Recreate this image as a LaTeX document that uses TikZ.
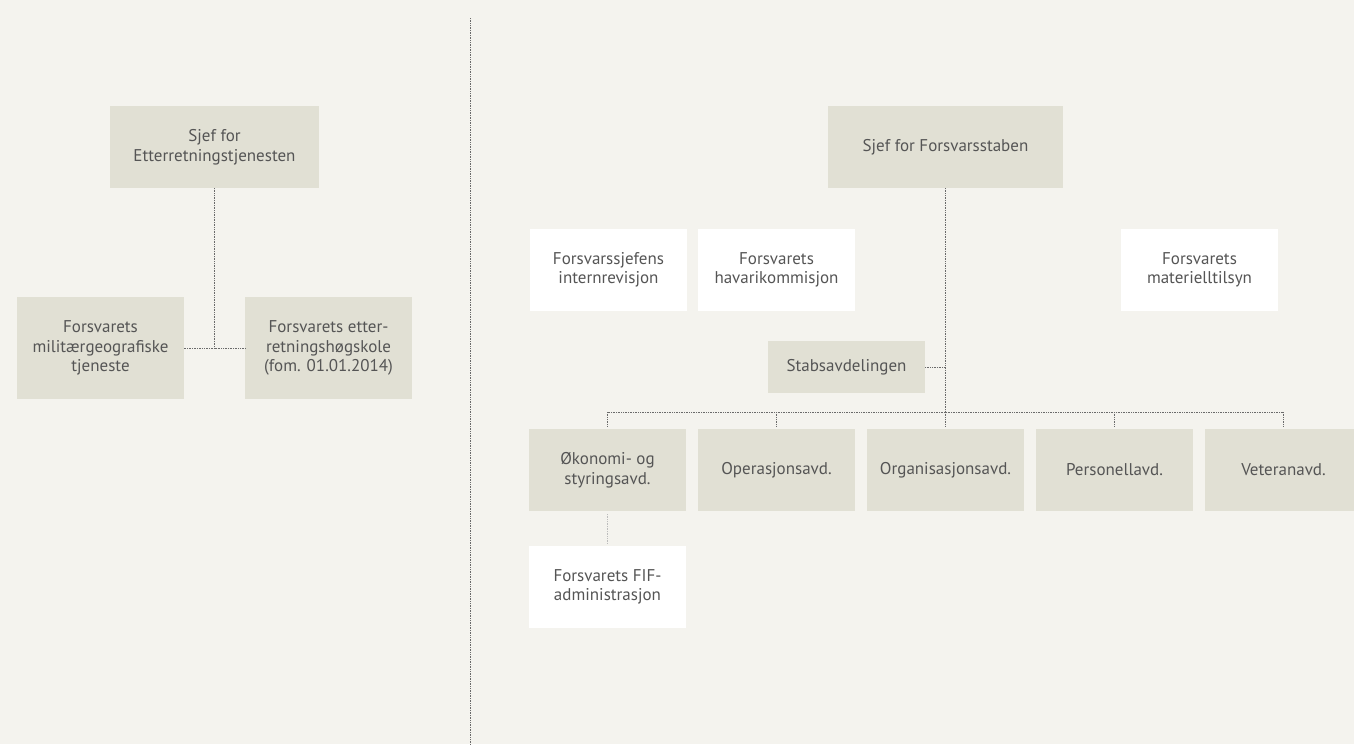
\documentclass[tikz,border=0pt]{standalone}
\usepackage{fontspec}
\setmainfont{PT Sans}
\usetikzlibrary{positioning}
\definecolor{bgbeige}{HTML}{F4F3EE}
\definecolor{boxbeige}{HTML}{E1E0D4}
\definecolor{txtgray}{HTML}{555555}
\definecolor{linegray}{HTML}{6A6A6A}

\begin{document}
\begin{tikzpicture}[
  x=1pt, y=-1pt,
  font=\fontsize{17}{19.5}\selectfont, text=txtgray,
  unit/.style={fill=boxbeige, align=center, minimum width=157pt, minimum height=82pt, inner sep=2pt, outer sep=0pt},
  staff/.style={unit, fill=white},
  link/.style={draw=linegray, densely dotted, line width=0.7pt},
]
\fill[bgbeige] (0,0) rectangle (1354,744);
\useasboundingbox (0,0) rectangle (1354,744);
\clip (0,0) rectangle (1354,744);
% divider between the two halves
\draw[link] (470,18) -- (470,744);
% left: etterretningstjenesten
\node[unit, minimum width=209pt] (etjef) at (214.5,147) {Sjef for\\Etterretningstjenesten};
\node[unit, minimum width=167pt, minimum height=102pt] (geo) at (100.5,348) {Forsvarets\\militærgeografiske\\tjeneste};
\node[unit, minimum width=167pt, minimum height=102pt, right=61pt of geo] (ehs) {Forsvarets etter-\\retningshøgskole\\(fom. 01.01.2014)};
\draw[link] (etjef.south) |- (geo.east);
\draw[link] (etjef.south) |- (ehs.west);
% right: forsvarsstaben
\node[unit, minimum width=235pt] (fsjef) at (945.5,147) {Sjef for Forsvarsstaben};
\node[staff] (revisjon) at (608.5,270) {Forsvarssjefens\\internrevisjon};
\node[staff, right=11pt of revisjon] (havari) {Forsvarets\\havarikommisjon};
\node[staff] (materiell) at (1199.5,270) {Forsvarets\\materielltilsyn};
\node[unit, minimum height=52pt] (stab) at (846.5,367) {Stabsavdelingen};
% avdelinger
\node[unit] (okonomi) at (607.5,470) {Økonomi- og\\styringsavd.};
\node[unit, right=12pt of okonomi] (oper) {Operasjonsavd.};
\node[unit, right=12pt of oper] (org) {Organisasjonsavd.};
\node[unit, right=12pt of org] (pers) {Personellavd.};
\node[unit, right=12pt of pers] (vet) {Veteranavd.};
\node[staff, below=35pt of okonomi] (fif) {Forsvarets FIF-\\administrasjon};
\coordinate (bus) at (945.5,412);
\draw[link] (fsjef.south) -- (bus);
\draw[link] (stab.east) -- (stab.east -| fsjef.south);
\draw[link] (okonomi.north |- bus) -- (vet.north |- bus);
\foreach \n in {okonomi,oper,org,pers,vet}
  \draw[link] (\n.north |- bus) -- ([yshift=3pt]\n.north);
\draw[link, draw=linegray!45] ([yshift=-3pt]okonomi.south) -- ([yshift=3pt]fif.north);
\end{tikzpicture}
\end{document}
